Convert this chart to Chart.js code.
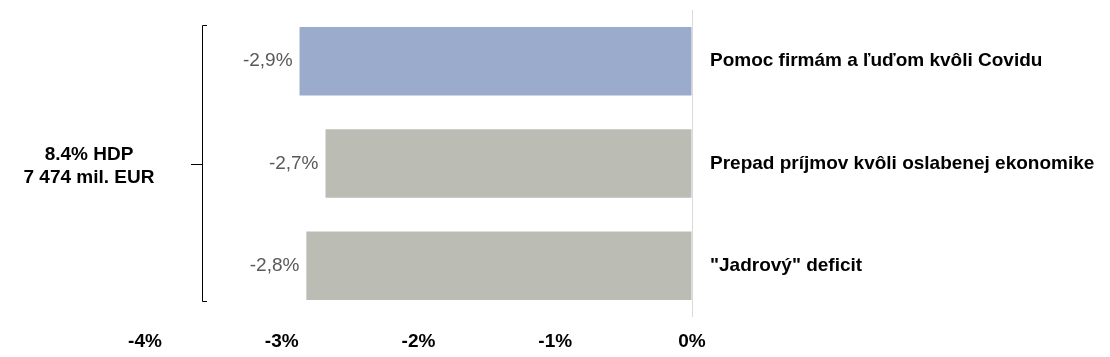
<!DOCTYPE html>
<html>
<head>
<meta charset="utf-8">
<script src="https://cdn.jsdelivr.net/npm/chart.js@4"></script>
<style>
  body { margin: 0; background: #fff; }
  #wrap { width: 1110px; height: 357px; }
</style>
</head>
<body>
<div id="wrap"><canvas id="myChart"></canvas></div>
<script>
const kategorie = [
  "Pomoc firmám a ľuďom kvôli Covidu",
  "Prepad príjmov kvôli oslabenej ekonomike",
  "\"Jadrový\" deficit",
];
const hodnoty = [-2.87, -2.68, -2.82];
const farby = ["#9babcb", "#bbbcb3", "#bbbcb3"];
const xTicky = [-4, -3, -2, -1, 0];
const poznamka = ["8.4% HDP", "7 474 mil. EUR"];

const font = "Liberation Sans, Arial, sans-serif";

// popisky hodnot + zatvorka vlavo
const popisky = {
  id: "popisky",
  afterDatasetsDraw(chart) {
    const ctx = chart.ctx;
    const meta = chart.getDatasetMeta(0);
    ctx.save();
    ctx.font = "19px " + font;
    ctx.fillStyle = "#595959";
    ctx.textAlign = "right";
    ctx.textBaseline = "middle";
    meta.data.forEach((bar, i) => {
      const txt = hodnoty[i].toFixed(1).replace(".", ",") + "%";
      ctx.fillText(txt, bar.x - 7, bar.y);
    });

    const x = Math.round(chart.scales.x.getPixelForValue(-3.58));
    const top = Math.round(meta.data[0].y - 36);
    const bottom = Math.round(meta.data[meta.data.length - 1].y + 35);
    const mid = Math.round(meta.data[1].y);
    ctx.strokeStyle = "#000";
    ctx.lineWidth = 1;
    ctx.beginPath();
    ctx.moveTo(x + 5, top + 0.5);
    ctx.lineTo(x + 0.5, top + 0.5);
    ctx.lineTo(x + 0.5, bottom + 0.5);
    ctx.lineTo(x + 5, bottom + 0.5);
    ctx.moveTo(x - 11, mid + 0.5);
    ctx.lineTo(x + 0.5, mid + 0.5);
    ctx.stroke();

    ctx.font = "bold 19px " + font;
    ctx.fillStyle = "#000";
    ctx.textAlign = "center";
    ctx.fillText(poznamka[0], 89, mid - 9);
    ctx.fillText(poznamka[1], 89, mid + 14);
    ctx.restore();
  },
};

const myChart = new Chart(document.getElementById("myChart"), {
  type: "bar",
  data: {
    labels: kategorie,
    datasets: [
      {
        data: hodnoty,
        backgroundColor: farby,
        borderWidth: 0,
        barPercentage: 0.67,
        categoryPercentage: 1,
      },
    ],
  },
  options: {
    indexAxis: "y",
    responsive: true,
    maintainAspectRatio: false,
    animation: false,
    layout: { padding: { left: 145, top: 10, bottom: 0 } },
    plugins: { legend: { display: false }, tooltip: { enabled: false } },
    scales: {
      x: {
        min: -4,
        max: 0,
        afterBuildTicks: (axis) => {
          axis.ticks = xTicky.map((v) => ({ value: v }));
        },
        afterFit: (axis) => {
          axis.height = 40;
        },
        grid: {
          drawTicks: false,
          color: (c) => (c.tick && c.tick.value === 0 ? "#d9d9d9" : "transparent"),
        },
        border: { display: false },
        ticks: {
          padding: 13,
          color: "#000",
          font: { family: font, size: 19, weight: "bold" },
          callback: (v) => v + "%",
        },
      },
      y: {
        position: "right",
        grid: { display: false, drawTicks: false },
        border: { display: false },
        afterFit: (axis) => {
          axis.width = 418;
          axis.paddingTop = 0;
          axis.paddingBottom = 0;
        },
        ticks: {
          padding: 18,
          color: "#000",
          font: { family: font, size: 19, weight: "bold" },
        },
      },
    },
  },
  plugins: [popisky],
});
</script>
</body>
</html>
